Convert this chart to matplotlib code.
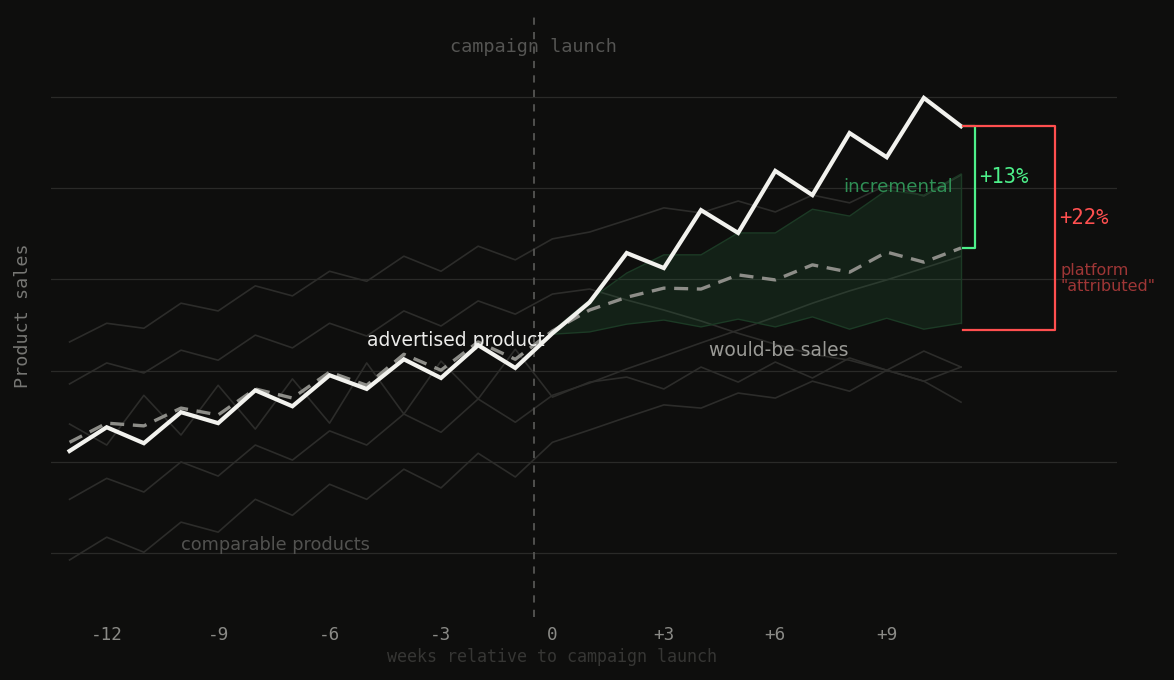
import matplotlib
matplotlib.use("Agg")
import matplotlib.pyplot as plt
import numpy as np

# ---------------- data ----------------
weeks = list(range(-13, 12))
post_weeks = list(range(0, 12))

advertised = [62.4, 67.6, 64.1, 70.9, 68.5, 75.7, 72.2, 79.0, 76.0, 82.5, 78.4, 85.6, 80.6,
              88.2, 95.0, 105.8, 102.5, 115.2, 110.2, 123.8, 118.5, 132.1, 126.8, 139.8, 133.6]
would_be = [64.3, 68.5, 67.9, 71.8, 70.3, 76.0, 74.0, 79.7, 76.8, 83.6, 80.1, 86.3, 82.5,
            88.7, 93.3, 96.1, 98.1, 97.9, 101.0, 99.9, 103.2, 101.6, 106.0, 103.8, 106.9]
band_upper = [88.7, 95.5, 101.4, 105.4, 105.4, 110.2, 110.2, 115.4, 113.9, 119.6, 118.5, 123.1]
band_lower = [88.0, 88.5, 90.2, 91.1, 89.6, 91.3, 89.6, 91.8, 89.1, 91.5, 89.1, 90.4]

comp_1 = [86.3, 90.4, 89.3, 94.8, 93.1, 98.6, 96.4, 101.8, 99.6, 105.1, 101.8, 107.3, 104.3,
          108.9, 110.4, 113.0, 115.7, 114.6, 117.2, 114.8, 118.5, 116.8, 120.7, 118.3, 122.9]
comp_2 = [77.1, 81.7, 79.5, 84.5, 82.3, 87.8, 85.0, 90.4, 87.6, 93.1, 89.8, 95.3, 92.4,
          96.8, 97.9, 95.5, 93.3, 90.9, 88.2, 85.8, 83.6, 82.3, 80.1, 77.7, 73.1]
comp_3 = [68.3, 63.7, 74.6, 65.9, 76.8, 67.2, 78.2, 68.5, 81.7, 70.5, 82.1, 73.8, 84.7,
          74.2, 77.5, 78.6, 76.0, 80.8, 77.5, 81.9, 78.4, 82.8, 80.1, 84.3, 80.8]
comp_4 = [51.8, 56.4, 53.4, 60.0, 56.9, 63.7, 60.4, 66.8, 63.7, 70.5, 66.5, 73.8, 68.7,
          74.6, 77.3, 80.4, 83.2, 86.1, 88.9, 91.8, 94.8, 97.5, 99.9, 102.5, 105.1]
comp_5 = [38.5, 43.5, 40.2, 46.8, 44.6, 51.8, 48.3, 55.1, 51.8, 58.4, 54.3, 61.9, 56.7,
          64.3, 67.0, 69.8, 72.5, 71.8, 75.1, 74.0, 77.7, 75.5, 80.1, 77.7, 80.8]
comparables = [comp_1, comp_2, comp_3, comp_4, comp_5]

attributed_base = 88.9
launch_week = -0.5
grid_values = [40, 60, 80, 100, 120, 140]
tick_weeks = [-12, -9, -6, -3, 0, 3, 6, 9]
tick_labels = ['-12', '-9', '-6', '-3', '0', '+3', '+6', '+9']

# ---------------- style ----------------
BG = '#0e0e0d'
MONO = 'DejaVu Sans Mono'
SANS = 'DejaVu Sans'

fig = plt.figure(figsize=(11.74, 6.8), dpi=100, facecolor=BG)
ax = fig.add_axes([51 / 1174, 1 - 617 / 680, 1066 / 1174, 603 / 680])
ax.set_facecolor(BG)

ax.set_xlim(-13.5, 15.2)
ax.set_ylim(26.0, 158.2)

for g in grid_values:
    ax.axhline(g, color='#2a2a28', lw=0.9, zorder=0)

for s in ax.spines.values():
    s.set_visible(False)

ax.set_yticks([])
ax.set_xticks(tick_weeks)
ax.set_xticklabels(tick_labels, fontfamily=MONO, fontsize=12.7, color='#8a8a86')
ax.tick_params(axis='x', length=0, pad=6.5)

# comparable products
for c in comparables:
    ax.plot(weeks, c, color='#2c2c2a', lw=1.2, zorder=1)

# band
ax.fill_between(post_weeks, band_lower, band_upper, facecolor='#2a7a45', alpha=0.18,
                edgecolor='none', zorder=2)
ax.plot(post_weeks, band_upper, color='#1c3a25', lw=1.0, zorder=2)
ax.plot(post_weeks, band_lower, color='#1c3a25', lw=1.0, zorder=2)
ax.plot([post_weeks[-1], post_weeks[-1]], [band_lower[-1], band_upper[-1]], color='#1c3a25', lw=1.0, zorder=2)

# launch line
ax.axvline(launch_week, color='#555553', lw=1.3, ls=(0, (4, 4)), zorder=1)

# would-be sales (dashed)
ax.plot(weeks, would_be, color='#8d8d88', lw=2.4, ls=(0, (4.2, 2.6)), zorder=3)

# advertised product
ax.plot(weeks, advertised, color='#f2f2ee', lw=3.0, zorder=4, solid_joinstyle='miter')

# brackets
x_end = 11.05
x_green = 11.37
x_red = 13.53
ax.plot([x_end, x_green, x_green, x_end], [advertised[-1], advertised[-1], would_be[-1], would_be[-1]],
        color='#4df08a', lw=1.6, zorder=5, clip_on=False)
ax.plot([x_end, x_red, x_red, x_end], [advertised[-1], advertised[-1], attributed_base, attributed_base],
        color='#ff4f4f', lw=1.6, zorder=5, clip_on=False)

# texts
ax.text(launch_week, 151.0, 'campaign launch', fontfamily=MONO, fontsize=13.3, color='#555553',
        ha='center', va='center')
ax.text(-5.0, 86.7, 'advertised product', fontfamily=SANS, fontsize=13.5, color='#ececea',
        ha='left', va='center', zorder=3.5)
ax.text(4.21, 84.5, 'would-be sales', fontfamily=SANS, fontsize=13.5, color='#9a9a96',
        ha='left', va='center')
ax.text(7.82, 120.3, 'incremental', fontfamily=SANS, fontsize=13.2, color='#2f8f55',
        ha='left', va='center')
ax.text(-10.0, 41.75, 'comparable products', fontfamily=SANS, fontsize=12.8, color='#525250',
        ha='left', va='center')
ax.text(11.5, 122.5, '+13%', fontfamily=MONO, fontsize=14.8, color='#4df08a',
        ha='left', va='center')
ax.text(13.65, 113.5, '+22%', fontfamily=MONO, fontsize=14.8, color='#ff5050',
        ha='left', va='center')
ax.text(13.69, 100.2, 'platform\n"attributed"', fontfamily=SANS, fontsize=11.5, color='#9e3636',
        ha='left', va='center', linespacing=1.05)

ax.set_ylabel('Product sales', fontfamily=MONO, fontsize=13.2, color='#777774', labelpad=14)
ax.annotate('weeks relative to campaign launch', xy=(0, -0.066), xycoords=('data', 'axes fraction'),
            fontfamily=MONO, fontsize=12.0, color='#363634', ha='center', va='center',
            annotation_clip=False)

fig.savefig('out.png', dpi=100, facecolor=BG)
